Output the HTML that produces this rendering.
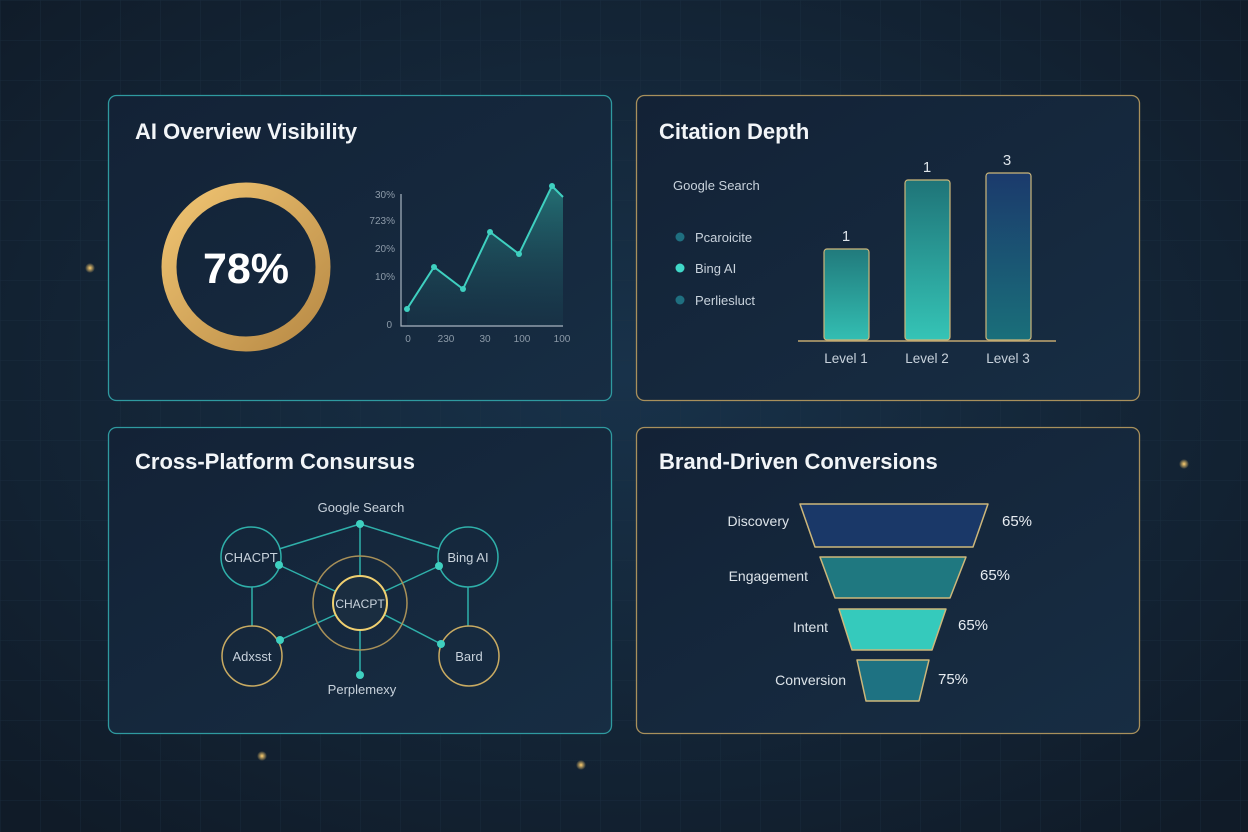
<!DOCTYPE html>
<html><head><meta charset="utf-8"><style>
html,body{margin:0;padding:0;background:#13202f;}
svg{display:block;font-family:"Liberation Sans",sans-serif;}
</style></head><body>
<svg width="1248" height="832" viewBox="0 0 1248 832" xmlns="http://www.w3.org/2000/svg">
<defs>
<radialGradient id="bg" cx="50%" cy="45%" r="70%">
<stop offset="0" stop-color="#18324a"/><stop offset="1" stop-color="#101b28"/>
</radialGradient>
<pattern id="grid" width="40" height="40" patternUnits="userSpaceOnUse">
<path d="M40 0H0V40" fill="none" stroke="#1f3346" stroke-width="1"/>
</pattern>
<linearGradient id="pan" x1="0" y1="0" x2="1" y2="1">
<stop offset="0" stop-color="#132236"/><stop offset="1" stop-color="#172d43"/>
</linearGradient>
<linearGradient id="ring" x1="0" y1="0" x2="1" y2="1">
<stop offset="0" stop-color="#f0c472"/><stop offset="1" stop-color="#b88a45"/>
</linearGradient>
<linearGradient id="area" x1="0" y1="0" x2="0" y2="1">
<stop offset="0" stop-color="#2fa9a0" stop-opacity="0.55"/><stop offset="1" stop-color="#1c4a58" stop-opacity="0.2"/>
</linearGradient>
<linearGradient id="b1" x1="0" y1="0" x2="0" y2="1"><stop offset="0" stop-color="#217a7c"/><stop offset="1" stop-color="#33beb2"/></linearGradient>
<linearGradient id="b2" x1="0" y1="0" x2="0" y2="1"><stop offset="0" stop-color="#1f7478"/><stop offset="1" stop-color="#35c4b6"/></linearGradient>
<linearGradient id="b3" x1="0" y1="0" x2="0" y2="1"><stop offset="0" stop-color="#1b3a6c"/><stop offset="1" stop-color="#1a6f7a"/></linearGradient>
<radialGradient id="glow"><stop offset="0" stop-color="#ffd070"/><stop offset="1" stop-color="#ffd070" stop-opacity="0"/></radialGradient>
</defs>
<rect width="1248" height="832" fill="url(#bg)"/>
<rect width="1248" height="832" fill="url(#grid)" opacity="0.6"/>
<circle cx="90" cy="268" r="5" fill="url(#glow)"/>
<circle cx="1184" cy="464" r="5" fill="url(#glow)"/>
<circle cx="262" cy="756" r="5" fill="url(#glow)"/>
<circle cx="581" cy="765" r="5" fill="url(#glow)"/>

<rect x="108.5" y="95.5" width="503" height="305" rx="8" fill="url(#pan)" stroke="#2f9aa0" stroke-width="1.3"/>
<rect x="636.5" y="95.5" width="503" height="305" rx="8" fill="url(#pan)" stroke="#a8905c" stroke-width="1.3"/>
<rect x="108.5" y="427.5" width="503" height="306" rx="8" fill="url(#pan)" stroke="#2f9aa0" stroke-width="1.3"/>
<rect x="636.5" y="427.5" width="503" height="306" rx="8" fill="url(#pan)" stroke="#a8905c" stroke-width="1.3"/>

<g fill="#f2f5f8" font-weight="bold" font-size="22">
<text x="135" y="139">AI Overview Visibility</text>
<text x="659" y="139">Citation Depth</text>
<text x="135" y="469">Cross-Platform Consursus</text>
<text x="659" y="469">Brand-Driven Conversions</text>
</g>

<circle cx="246" cy="267" r="77" fill="none" stroke="url(#ring)" stroke-width="15"/>
<text x="246" y="283" text-anchor="middle" font-size="43" font-weight="bold" fill="#fff">78%</text>

<g font-size="10" fill="#8c9aa8" text-anchor="end">
<text x="395" y="198">30%</text><text x="395" y="224">723%</text><text x="395" y="252">20%</text><text x="395" y="280">10%</text><text x="392" y="328">0</text>
</g>
<g font-size="10" fill="#8c9aa8" text-anchor="middle">
<text x="408" y="342">0</text><text x="446" y="342">230</text><text x="485" y="342">30</text><text x="522" y="342">100</text><text x="562" y="342">100</text>
</g>
<path d="M407 309 L434 267 L463 289 L490 232 L519 254 L552 186 L563 197 L563 326 L407 326Z" fill="url(#area)"/>
<polyline points="407,309 434,267 463,289 490,232 519,254 552,186 563,197" fill="none" stroke="#3fd0c0" stroke-width="2"/>
<g fill="#3fd0c0"><circle cx="407" cy="309" r="3"/><circle cx="434" cy="267" r="3"/><circle cx="463" cy="289" r="3"/><circle cx="490" cy="232" r="3"/><circle cx="519" cy="254" r="3"/><circle cx="552" cy="186" r="3"/></g>
<path d="M401 194V326H563" fill="none" stroke="#a8b4c0" stroke-width="1.2"/>

<text x="673" y="190" font-size="13" fill="#c8d2dc">Google Search</text>
<circle cx="680" cy="237" r="4.5" fill="#1f6f80"/><text x="695" y="242" font-size="13" fill="#c8d2dc">Pcaroicite</text>
<circle cx="680" cy="268" r="4.5" fill="#40d8c8"/><text x="695" y="273" font-size="13" fill="#c8d2dc">Bing AI</text>
<circle cx="680" cy="300" r="4.5" fill="#1f6f80"/><text x="695" y="305" font-size="13" fill="#c8d2dc">Perliesluct</text>
<rect x="824" y="249" width="45" height="91" rx="3" fill="url(#b1)" stroke="#cdb77a" stroke-width="1.2"/>
<rect x="905" y="180" width="45" height="160" rx="3" fill="url(#b2)" stroke="#cdb77a" stroke-width="1.2"/>
<rect x="986" y="173" width="45" height="167" rx="3" fill="url(#b3)" stroke="#cdb77a" stroke-width="1.2"/>
<line x1="798" y1="341" x2="1056" y2="341" stroke="#c2a870" stroke-width="1.5"/>
<g font-size="15" fill="#dde4ea" text-anchor="middle">
<text x="846" y="241">1</text><text x="927" y="172">1</text><text x="1007" y="165">3</text>
</g>
<g font-size="13.5" fill="#c8d2dc" text-anchor="middle">
<text x="846" y="363">Level 1</text><text x="927" y="363">Level 2</text><text x="1008" y="363">Level 3</text>
</g>

<g stroke="#2fb0aa" stroke-width="1.5" fill="none">
<line x1="360" y1="524" x2="279" y2="549"/>
<line x1="360" y1="524" x2="440" y2="549"/>
<line x1="360" y1="524" x2="360" y2="576"/>
<line x1="279" y1="565" x2="337" y2="592"/>
<line x1="439" y1="566" x2="383" y2="592"/>
<line x1="280" y1="640" x2="337" y2="614"/>
<line x1="441" y1="644" x2="383" y2="614"/>
<line x1="360" y1="630" x2="360" y2="675"/>
<line x1="252" y1="587" x2="252" y2="626"/>
<line x1="468" y1="587" x2="468" y2="626"/>
<circle cx="251" cy="557" r="30"/>
<circle cx="468" cy="557" r="30"/>
</g>
<circle cx="252" cy="656" r="30" fill="none" stroke="#c9ab62" stroke-width="1.5"/>
<circle cx="469" cy="656" r="30" fill="none" stroke="#c9ab62" stroke-width="1.5"/>
<circle cx="360" cy="603" r="47" fill="none" stroke="#a89058" stroke-width="1.5"/>
<circle cx="360" cy="603" r="27" fill="#1a2d40" stroke="#f0d070" stroke-width="2"/>
<g fill="#3fd0c0"><circle cx="360" cy="524" r="4"/><circle cx="279" cy="565" r="4"/><circle cx="439" cy="566" r="4"/><circle cx="280" cy="640" r="4"/><circle cx="441" cy="644" r="4"/><circle cx="360" cy="675" r="4"/></g>
<g font-size="13" fill="#c8d2dc" text-anchor="middle">
<text x="361" y="512">Google Search</text>
<text x="251" y="562">CHACPT</text>
<text x="468" y="562">Bing AI</text>
<text x="360" y="608" font-size="12">CHACPT</text>
<text x="252" y="661">Adxsst</text>
<text x="469" y="661">Bard</text>
<text x="362" y="694">Perplemexy</text>
</g>

<g stroke="#cdb77a" stroke-width="1.5" stroke-linejoin="round">
<path d="M800 504 L988 504 L973 547 L815 547Z" fill="#1a3868"/>
<path d="M820 557 L966 557 L950 598 L835 598Z" fill="#1f7880"/>
<path d="M839 609 L946 609 L932 650 L852 650Z" fill="#35cabc"/>
<path d="M857 660 L929 660 L919 701 L866 701Z" fill="#1e7282"/>
</g>
<g font-size="14" fill="#dde4ea" text-anchor="end">
<text x="789" y="526">Discovery</text><text x="808" y="581">Engagement</text><text x="828" y="632">Intent</text><text x="846" y="685">Conversion</text>
</g>
<g font-size="15" fill="#e8edf2">
<text x="1002" y="526">65%</text><text x="980" y="580">65%</text><text x="958" y="630">65%</text><text x="938" y="684">75%</text>
</g>
</svg>
</body></html>
